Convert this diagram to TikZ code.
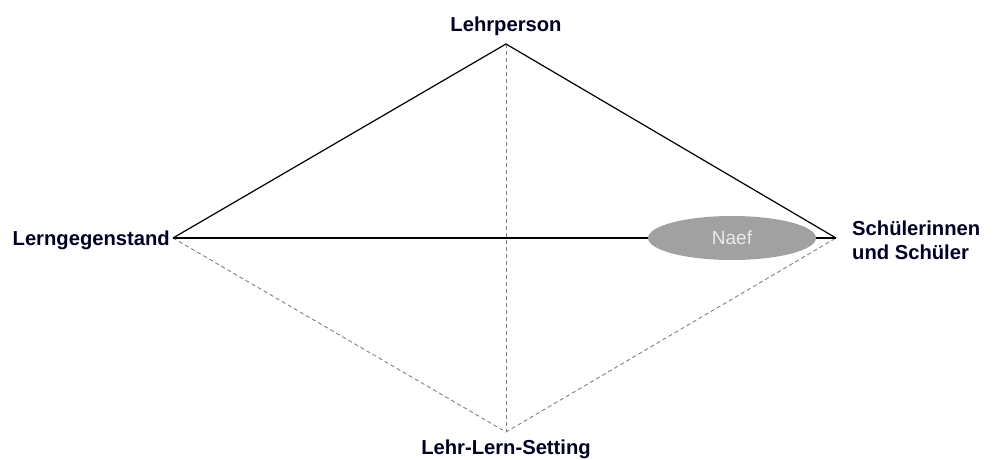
\documentclass[tikz,border=0pt]{standalone}
\usepackage{fontspec}
\setmainfont{Liberation Sans}
\usetikzlibrary{shapes.geometric}
\tikzset{
  corner/.style={font=\fontsize{20.2}{24}\selectfont\bfseries, text=black!85!blue, inner sep=0pt},
  hidden/.style={gray, dashed, dash pattern=on 4pt off 3pt, line width=0.9pt},
  edge/.style={black, line width=1.2pt}
}
\begin{document}
\begin{tikzpicture}[x=1pt,y=-1pt]
  \useasboundingbox (0,0) rectangle (993,460);
  % corners of the tetrahedron
  \coordinate (top) at (506,44);
  \coordinate (left) at (173,238);
  \coordinate (right) at (836,238);
  \coordinate (bottom) at (506,432);
  \node[corner, anchor=base] (lp) at (506,32) {Lehrperson};
  \node[corner, anchor=east] (lg) at (170,240) {Lerngegenstand};
  \node[corner, anchor=west, align=left] (su) at (852,240) {Schülerinnen\\und Schüler};
  \node[corner, anchor=base] (ls) at (506,454) {Lehr-Lern-Setting};
  % hidden edges
  \draw[hidden] (top) -- (bottom);
  \draw[hidden] (left) -- (bottom) -- (right);
  % visible edges
  \draw[edge] (left) -- (top) -- (right);
  \draw[edge] (left) -- (right);
  \node[ellipse, fill=black!37, minimum width=168pt, minimum height=44pt, inner sep=0pt,
        text=white!92!black, font=\fontsize{19}{21}\selectfont] (naef) at (732,238) {Naef};
\end{tikzpicture}
\end{document}
